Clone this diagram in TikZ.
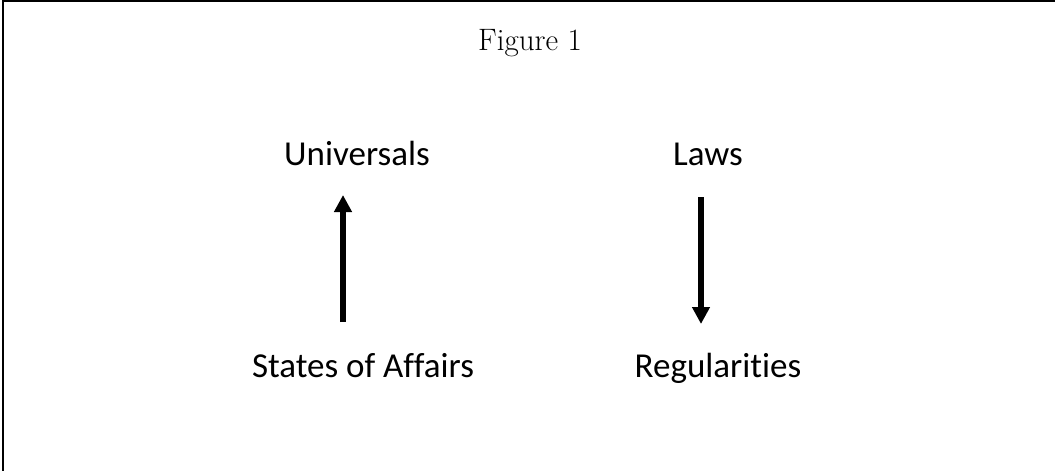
\documentclass[tikz,border=0pt]{standalone}
\usepackage{fontspec}
\newfontfamily\labfont[Ligatures={NoCommon}]{Carlito}
\usetikzlibrary{arrows.meta}
\begin{document}
\begin{tikzpicture}[x=1pt,y=-1pt,
  lab/.style={font=\labfont\fontsize{35}{40}\selectfont, anchor=base, inner sep=0pt},
  ttl/.style={font=\fontsize{31}{36}\selectfont, anchor=base, inner sep=0pt},
  bigarrow/.style={line width=6pt, -{Triangle[width=17pt,length=17pt]}}]
\useasboundingbox (0,0) rectangle (1055,471);
\draw[line width=2pt] (3,471) -- (3,1) -- (1055,1);
\node[ttl] (fig) at (530,50) {Figure 1};
\node[lab] (univ) at (357,165) {Universals};
\node[lab] (laws) at (708,165) {Laws};
\node[lab] (soa) at (363,377) {States of Affairs};
\node[lab] (reg) at (718,377) {Regularities};
\coordinate (a1s) at (343,322);
\coordinate (a1e) at (343,195);
\coordinate (a2s) at (701,197);
\coordinate (a2e) at (701,324);
\draw[bigarrow] (a1s) -- (a1e);
\draw[bigarrow] (a2s) -- (a2e);
\end{tikzpicture}
\end{document}
